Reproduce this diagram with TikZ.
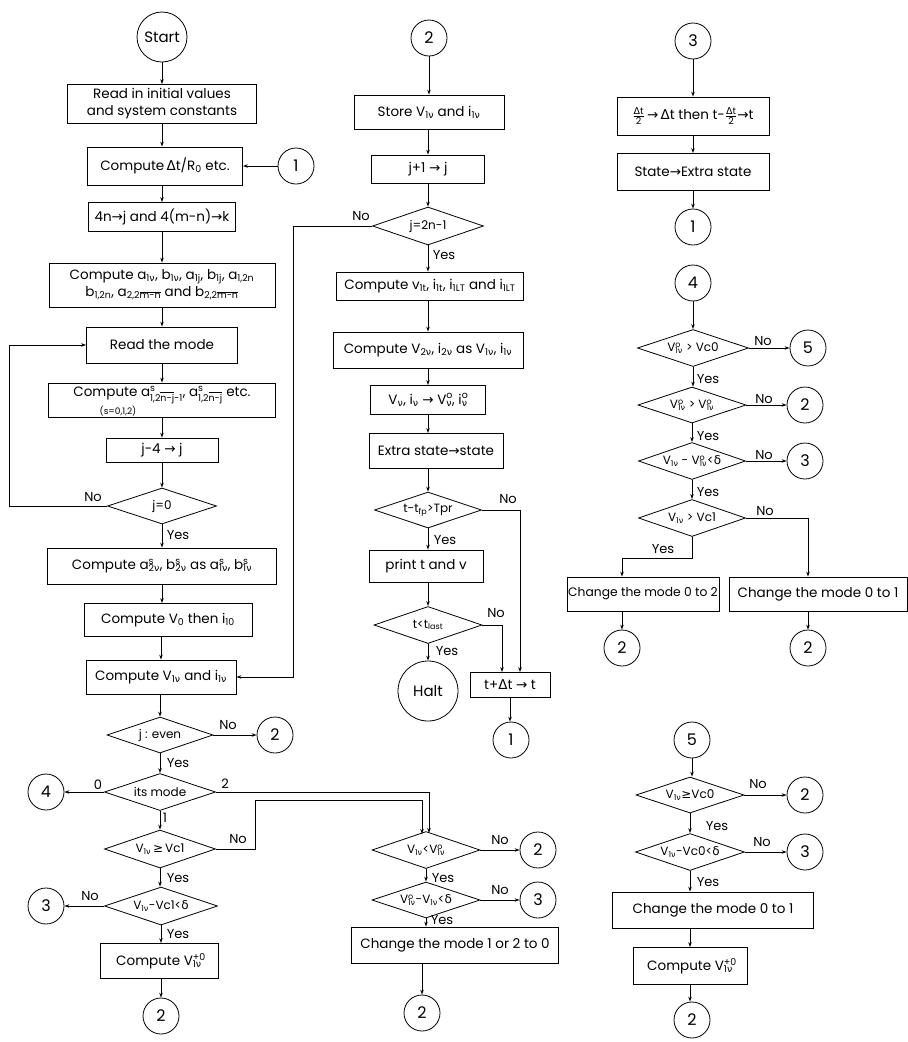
\documentclass[tikz,border=0pt]{standalone}
\usepackage{fontspec}
\setmainfont{Poppins}
\newfontfamily\gr{DejaVu Sans}
\usetikzlibrary{shapes.geometric,arrows.meta}
\newcommand\gnu{{\gr ν}}
\newcommand\gdl{{\gr δ}}
\newcommand\gDl{{\gr Δ}}
\newcommand\gar{{\gr →}}
\newcommand\ggq{{\gr ≥}}
\newcommand\ssb[2]{\rlap{\textsuperscript{#1}}\textsubscript{#2}}
\newcommand\ovl[1]{$\overline{\hbox{#1}}$}
\newcommand\tfr[2]{$\frac{\hbox{\fontsize{9.5}{9.5}\selectfont #1}}{\hbox{\fontsize{9.5}{9.5}\selectfont #2}}$}
\newcommand\mybx[6]{\node[box,minimum width=#4,minimum height=#5] (#1) at (#2,#3) {#6};}
\newcommand\mydm[6]{\node[dia,minimum width=#4,minimum height=#5,label={[dtxt]center:{#6}}] (#1) at (#2,#3) {};}
\newcommand\mycc[4]{\node[con] (#1) at (#2,#3) {#4};}
\begin{document}
\begin{tikzpicture}[x=1pt,y=-1pt,
 box/.style={draw, rectangle, line width=0.8pt, inner sep=1pt, align=center, font=\fontsize{13.5}{17}\selectfont},
 dia/.style={draw, diamond, line width=0.8pt, inner sep=0pt},
 dtxt/.style={font=\fontsize{12}{14}\selectfont, inner sep=0pt},
 con/.style={draw, circle, line width=0.8pt, inner sep=0pt, minimum size=36pt, font=\fontsize{16}{17}\selectfont},
 arr/.style={line width=0.8pt, -{Stealth[length=5pt,width=3.5pt]}},
 lab/.style={font=\fontsize{13}{14}\selectfont, inner sep=0pt}]
\useasboundingbox (0,0) rectangle (908,1042);
% ---------------- left column
\node[con,minimum size=50pt,font=\fontsize{15}{16}\selectfont] (start) at (162,37) {Start};
\mybx{b1}{162}{104}{189}{39}{Read in initial values\\and system constants}
\mybx{b2}{165}{166}{155}{38}{Compute\,\gDl t/R\textsubscript{0} etc.}
\mycc{c1a}{296}{166}{1}
\mybx{b3}{162}{217}{147}{29}{4n\gar j and 4(m-n)\gar k}
\mybx{b4}{162}{285}{226}{44}{Compute a\textsubscript{1\gnu}, b\textsubscript{1\gnu}, a\textsubscript{1j}, b\textsubscript{1j}, a\textsubscript{1,2n}\\b\textsubscript{1,2n}, a\textsubscript{2,2\ovl{m-n}} and b\textsubscript{2,2\ovl{m-n}}}
\mybx{b5}{162}{345}{151}{36}{Read the mode}
\node[box,minimum width=227,minimum height=34] (b6) at (162,400) {};
\node[font=\fontsize{13.5}{16}\selectfont, inner sep=0pt] (b6t) at (162,395) {Compute a\ssb{s}{1,2\ovl{n-j}-1}, a\ssb{s}{1,2\ovl{n-j}} etc.};
\node[font=\fontsize{9}{9}\selectfont, inner sep=0pt] (b6s) at (118,411) {(s=0,1,2)};
\mybx{b7}{162}{450}{112}{24}{j-4 \gar{} j}
\mydm{d1}{162}{506}{109}{36}{j=0}
\mybx{b8}{162}{566}{229}{36}{Compute a\ssb{s}{2\gnu}, b\ssb{s}{2\gnu} as a\ssb{s}{1\gnu}, b\ssb{s}{1\gnu}}
\mybx{b9}{168}{620}{168}{33}{Compute V\textsubscript{0} then i\textsubscript{10}}
\mybx{b10}{161}{677}{150}{34}{Compute V\textsubscript{1\gnu} and i\textsubscript{1\gnu}}
\mydm{d2}{160}{735}{106}{36}{j : even}
\mycc{c2a}{275}{735}{2}
\mydm{d3}{160}{792}{111}{37}{its mode}
\mycc{c4a}{46}{792}{4}
\mydm{d4}{160}{849}{111}{38}{V\textsubscript{1\gnu}\,\ggq\,Vc1}
\mydm{d5}{161}{906}{113}{38}{V\textsubscript{1\gnu}-Vc1<\gdl}
\mycc{c3a}{46}{906}{3}
\mybx{b11}{159}{961}{118}{35}{Compute V\ssb{+0}{1\gnu}}
\mycc{c2b}{161}{1016}{2}
% ---------------- middle column
\mycc{c2m}{429}{38}{2}
\mybx{m1}{429}{112}{150}{34}{Store V\textsubscript{1\gnu} and i\textsubscript{1\gnu}}
\mybx{m2}{428}{169}{113}{28}{j+1 \gar{} j}
\mydm{md1}{428}{226}{111}{38}{j=2n-1}
\mybx{m3}{430}{286}{187}{28}{Compute v\textsubscript{1t}, i\textsubscript{1t}, i\textsubscript{1LT} and i\textsubscript{1LT}}
\mybx{m4}{428}{350}{190}{36}{Compute V\textsubscript{2\gnu}, i\textsubscript{2\gnu} as V\textsubscript{1\gnu}, i\textsubscript{1\gnu}}
\mybx{m5}{428}{400}{115}{29}{V\textsubscript{\gnu}, i\textsubscript{\gnu} \gar{} V\ssb{o}{\gnu}, i\ssb{o}{\gnu}}
\mybx{m6}{436}{451}{134}{35}{Extra state\gar{}state}
\mydm{md2}{428}{510}{107}{36}{t-t\textsubscript{fp}>Tpr}
\mybx{m7}{426}{566}{114}{32}{print t and v}
\mydm{md3}{428}{625}{108}{37}{t<t\textsubscript{last}}
\node[con,minimum size=60pt,font=\fontsize{15}{16}\selectfont] (halt) at (428,691) {Halt};
\mybx{m8}{510}{685}{80}{25}{t+\gDl t \gar{} t}
\mycc{c1m}{511}{740}{1}
\mydm{d6}{426}{850}{108}{37}{V\textsubscript{1\gnu}<V\ssb{o}{1\gnu}}
\mycc{c2c}{538}{850}{2}
\mydm{d7}{426}{900}{108}{36}{V\ssb{o}{1\gnu}-V\textsubscript{1\gnu}<\gdl}
\mycc{c3b}{538}{900}{3}
\mybx{b12}{455}{945}{207}{36}{Change the mode 1 or 2 to 0}
\mycc{c2d}{422}{1013}{2}
% ---------------- right column
\mycc{c3r}{693}{41}{3}
\mybx{r1}{693}{116}{152}{38}{\tfr{\gDl t}{2}\,\gar\,\gDl t then t-\tfr{\gDl t}{2}\gar t}
\mybx{r2}{693}{172}{152}{37}{State\gar{}Extra state}
\mycc{c1r}{693}{227}{1}
\mycc{c4r}{693}{283}{4}
\mydm{rd1}{693}{348}{111}{37}{V\ssb{o}{1\gnu} > Vc0}
\mycc{c5r}{808}{348}{5}
\mydm{rd2}{692}{405}{108}{36}{V\ssb{o}{1\gnu} > V\ssb{o}{1\gnu}}
\mycc{c2r}{805}{405}{2}
\mydm{rd3}{692}{461}{107}{37}{V\textsubscript{1\gnu} - V\ssb{o}{1\gnu}<\gdl}
\mycc{c3s}{805}{461}{3}
\mydm{rd4}{692}{518}{107}{37}{V\textsubscript{1\gnu} > Vc1}
\mybx{r3}{643}{594}{152}{34}{\fontsize{12.3}{15}\selectfont Change the mode 0 to 2}
\mybx{r4}{818}{594}{178}{34}{Change the mode 0 to 1}
\mycc{c2s}{622}{648}{2}
\mycc{c2t}{808}{648}{2}
\mycc{c5b}{692}{740}{5}
\mydm{rd5}{690}{795}{108}{36}{V\textsubscript{1\gnu}\ggq Vc0}
\mycc{c2u}{805}{795}{2}
\mydm{rd6}{690}{852}{109}{37}{V\textsubscript{1\gnu}-Vc0<\gdl}
\mycc{c3t}{805}{852}{3}
\mybx{r5}{713}{910}{201}{36}{Change the mode 0 to 1}
\mybx{r6}{690}{966}{114}{37}{Compute V\ssb{+0}{1\gnu}}
\mycc{c2v}{692}{1020}{2}
% ---------------- coordinates for bends
\coordinate (lp) at (9,506);
\coordinate (k2) at (429,792);
\coordinate (k3) at (255,800);
\coordinate (k4) at (422,800);
\coordinate (k5) at (293,226);
\coordinate (k6) at (520,510);
\coordinate (k7) at (502,625);
\coordinate (k8) at (808,518);
\coordinate (k9) at (622,558);
% ---------------- left connectors
\draw[arr] (start.south) -- (start.south |- b1.north);
\draw[arr] (b1.south) -- (b1.south |- b2.north);
\draw[arr] (c1a.west) -- (b2.east);
\draw[arr] (b3.north |- b2.south) -- (b3.north);
\draw[arr] (b3.south) -- (b3.south |- b4.north);
\draw[arr] (b4.south) -- (b4.south |- b5.north);
\draw[arr] (b5.south) -- (b5.south |- b6.north);
\draw[arr] (b6.south) -- (b6.south |- b7.north);
\draw[arr] (b7.south) -- (d1.north);
\draw[arr] (d1.west) -- (lp) |- (b5.west);
\draw[arr] (d1.south) -- (d1.south |- b8.north);
\draw[arr] (b8.south) -- (b8.south |- b9.north);
\draw[arr] (b10.north |- b9.south) -- (b10.north);
\draw[arr] (md1.west) -- (k5) |- (b10.east);
\draw[arr] (d2.north |- b10.south) -- (d2.north);
\draw[arr] (d2.east) -- (c2a.west);
\draw[arr] (d2.south) -- (d3.north);
\draw[arr] (d3.west) -- (c4a.east);
\draw[arr] (d3.south) -- (d4.north);
\draw[arr] (d4.south) -- (d4.south |- d5.north);
\draw[arr] (d5.west) -- (c3a.east);
\draw[arr] (b11.north -| d5.south) ++(0,-19) -- (b11.north -| d5.south);
\draw[arr] (b11.south -| c2b.north) -- (c2b.north);
\draw[arr] (d3.east) -- (k2) -- (429,833);
\draw[arr] (d4.east) -| (k3) -- (k4) -- (422,834);
% ---------------- middle connectors
\draw[arr] (c2m.south) -- (c2m.south |- m1.north);
\draw[arr] (m2.north |- m1.south) -- (m2.north);
\draw[arr] (m2.south) -- (md1.north);
\draw[arr] (md1.south) -- (md1.south |- m3.north);
\draw[arr] (md1.south |- m3.south) -- (md1.south |- m4.north);
\draw[arr] (m4.south) -- (m5.north);
\draw[arr] (m5.south) -- (m5.south |- m6.north);
\draw[arr] (md2.north |- m6.south) -- (md2.north);
\draw[arr] (md2.south) -- (md2.south |- m7.north);
\draw[arr] (md3.north |- m7.south) -- (md3.north);
\draw[arr] (md3.south) -- (halt.north);
\draw[arr] (md2.east) -- (k6) -- (k6 |- m8.north);
\draw[arr] (md3.east) -- (k7) -- (k7 |- m8.north);
\draw[arr] (m8.south) -- (m8.south |- c1m.north);
\draw[arr] (d6.east) -- (c2c.west);
\draw[arr] (d6.south) -- (d7.north);
\draw[arr] (d7.east) -- (c3b.west);
\draw[arr] (d7.south) -- (d7.south |- b12.north);
\draw[arr] (c2d.north |- b12.south) -- (c2d.north);
% ---------------- right connectors
\draw[arr] (c3r.south) -- (c3r.south |- r1.north);
\draw[arr] (r1.south) -- (r2.north);
\draw[arr] (r2.south) -- (c1r.north);
\draw[arr] (c4r.south) -- (rd1.north);
\draw[arr] (rd1.east) -- (c5r.west);
\draw[arr] (rd1.south) -- (rd1.south |- rd2.north);
\draw[arr] (rd2.east) -- (c2r.west);
\draw[arr] (rd2.south) -- (rd2.south |- rd3.north);
\draw[arr] (rd3.east) -- (c3s.west);
\draw[arr] (rd3.south) -- (rd4.north);
\draw[arr] (rd4.east) -- (k8) -- (k8 |- r4.north);
\draw[arr] (rd4.south) |- (k9) -- (k9 |- r3.north);
\draw[arr] (c2s.north |- r3.south) -- (c2s.north);
\draw[arr] (c2t.north |- r4.south) -- (c2t.north);
\draw[arr] (c5b.south) -- (c5b.south |- rd5.north);
\draw[arr] (rd5.east) -- (c2u.west);
\draw[arr] (rd5.south) -- (rd6.north);
\draw[arr] (rd6.east) -- (c3t.west);
\draw[arr] (rd6.south) -- (rd6.south |- r5.north);
\draw[arr] (rd6.south |- r5.south) -- (rd6.south |- r6.north);
\draw[arr] (r6.south) -- (r6.south |- c2v.north);
% ---------------- labels
\node[lab] (l1) at (93,497) {No};
\node[lab] (l2) at (178,535) {Yes};
\node[lab] (l3) at (361,216) {No};
\node[lab] (l4) at (444,255) {Yes};
\node[lab] (l5) at (228,725) {No};
\node[lab] (l6) at (178,763) {Yes};
\node[lab] (l7) at (98,785) {0};
\node[lab] (l8) at (225,784) {2};
\node[lab] (l9) at (165,818) {1};
\node[lab] (l10) at (238,839) {No};
\node[lab] (l11) at (178,878) {Yes};
\node[lab] (l12) at (90,896) {No};
\node[lab] (l13) at (178,934) {Yes};
\node[lab] (l14) at (500,840) {No};
\node[lab] (l15) at (443,878) {Yes};
\node[lab] (l16) at (500,890) {No};
\node[lab] (l17) at (442,920) {Yes};
\node[lab] (l18) at (508,499) {No};
\node[lab] (l19) at (445,540) {Yes};
\node[lab] (l20) at (496,613) {No};
\node[lab] (l21) at (447,651) {Yes};
\node[lab] (l22) at (763,341) {No};
\node[lab] (l23) at (708,379) {Yes};
\node[lab] (l24) at (764,399) {No};
\node[lab] (l25) at (708,436) {Yes};
\node[lab] (l26) at (764,455) {No};
\node[lab] (l27) at (708,492) {Yes};
\node[lab] (l28) at (765,511) {No};
\node[lab] (l29) at (663,549) {Yes};
\node[lab] (l30) at (758,784) {No};
\node[lab] (l31) at (717,826) {Yes};
\node[lab] (l32) at (762,842) {No};
\node[lab] (l33) at (708,882) {Yes};
\end{tikzpicture}
\end{document}
